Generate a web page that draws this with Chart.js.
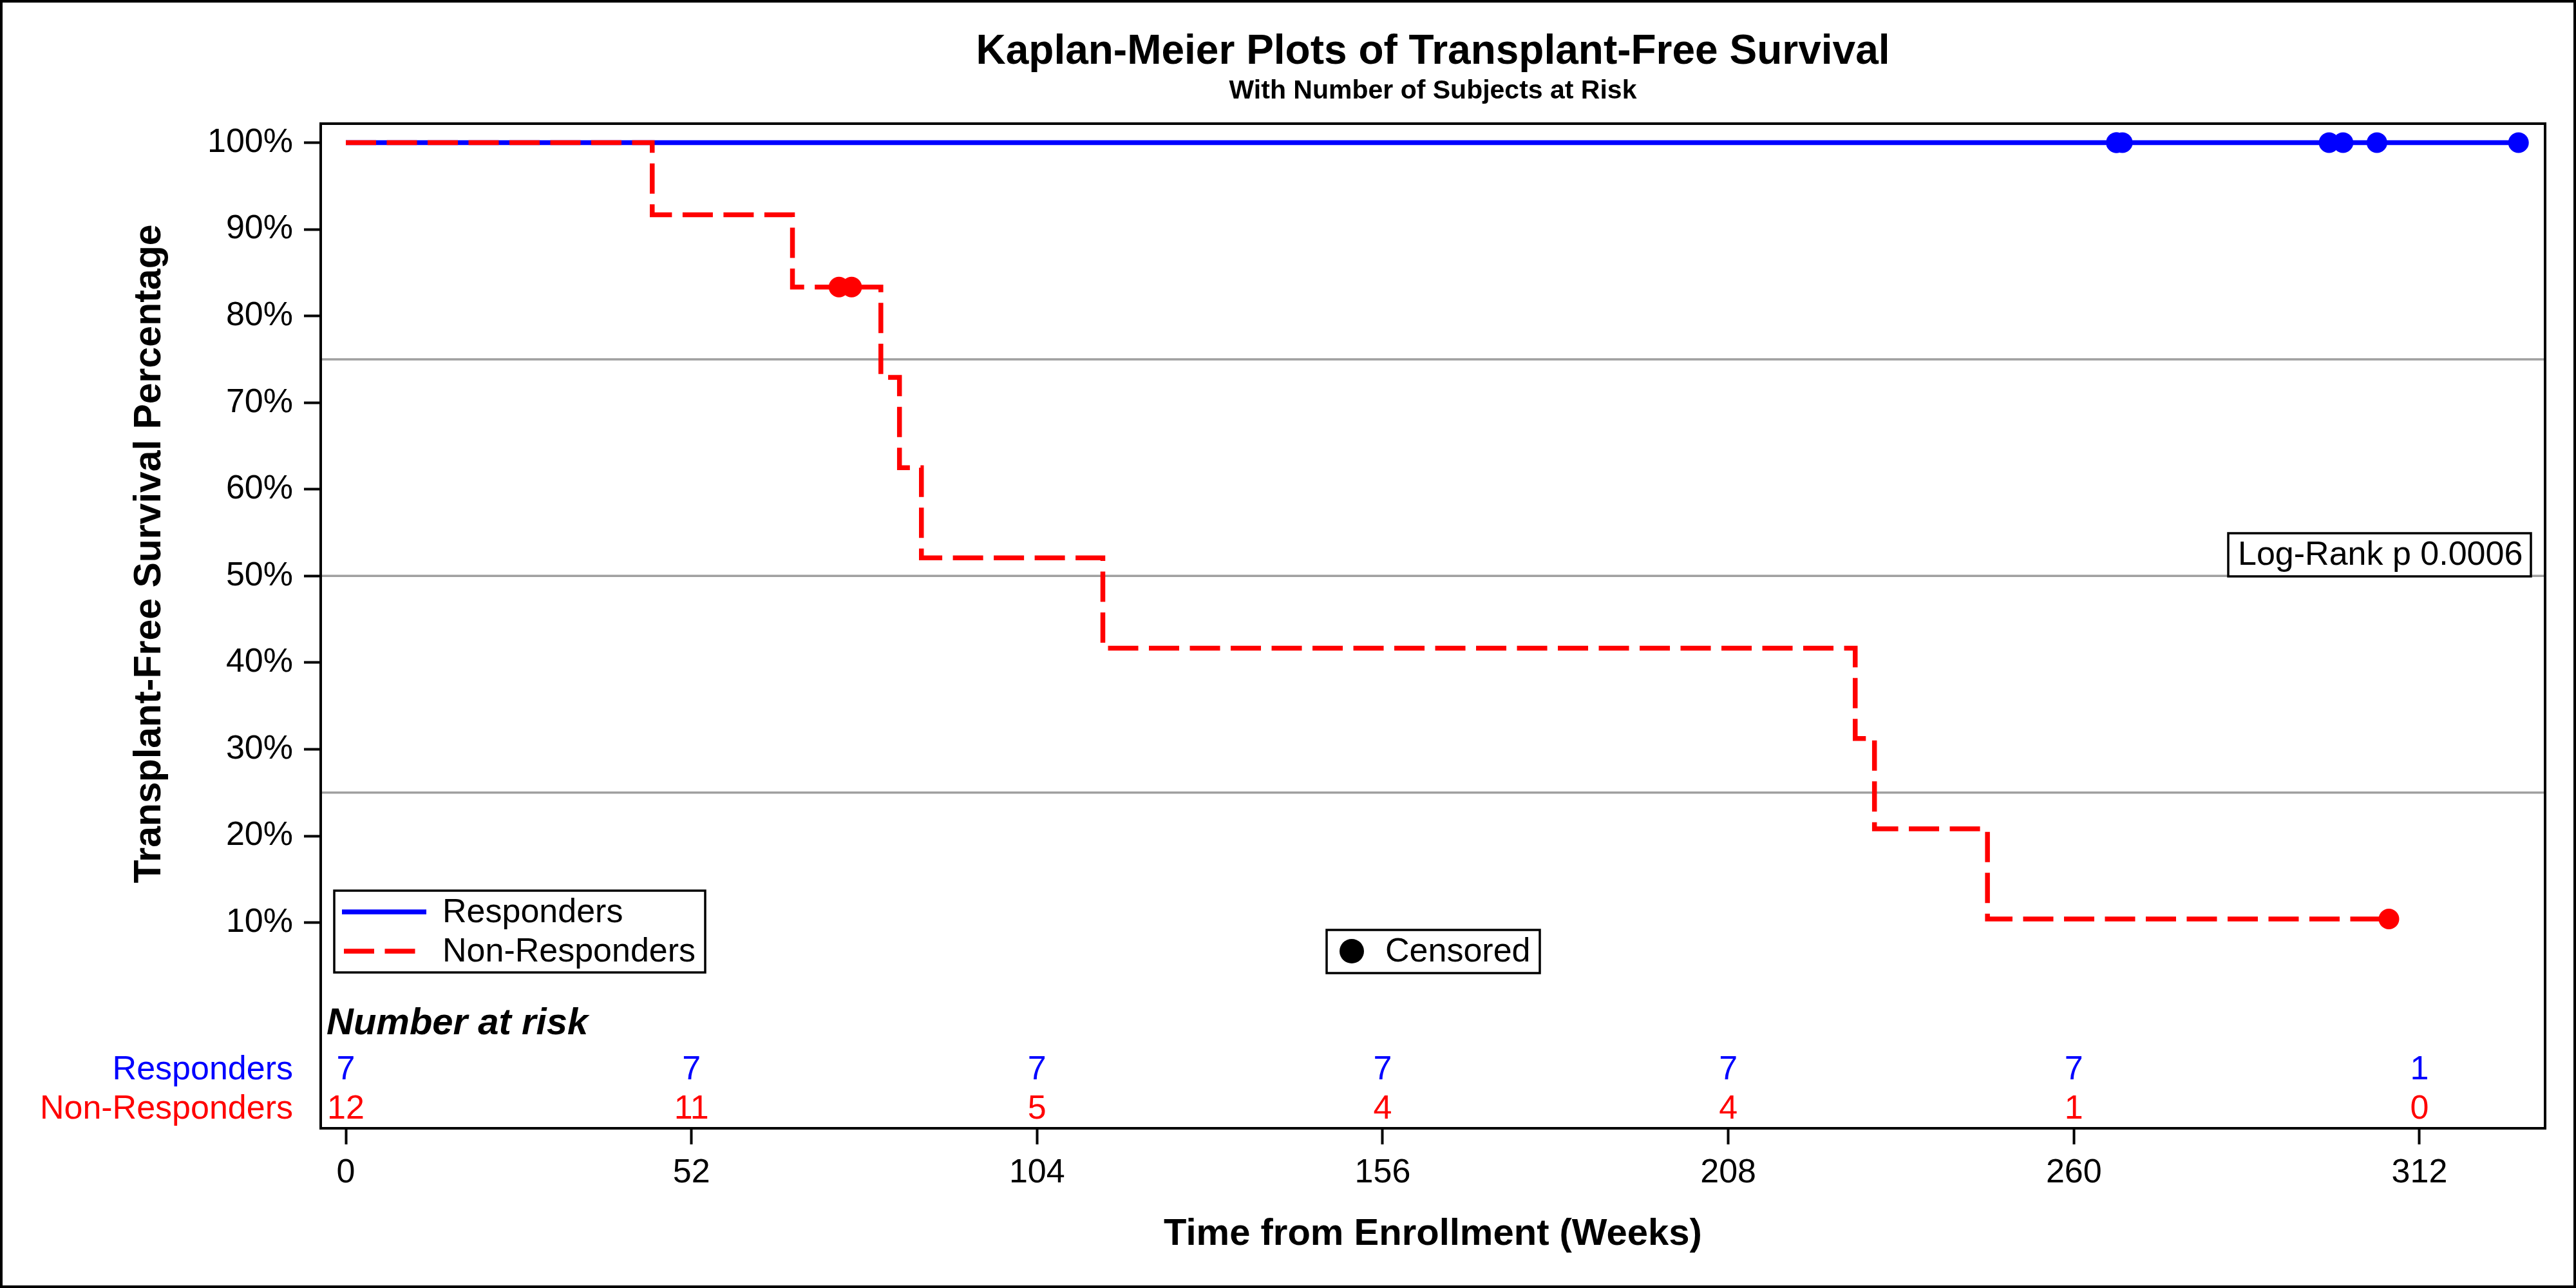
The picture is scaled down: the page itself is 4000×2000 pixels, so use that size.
<!DOCTYPE html>
<html>
<head>
<meta charset="utf-8">
<script src="https://cdn.jsdelivr.net/npm/chart.js@4.4.1/dist/chart.umd.min.js"></script>
<style>
  html, body { margin: 0; padding: 0; background: #fff; }
  #wrap { width: 4000px; height: 2000px; }
</style>
</head>
<body>
<div id="wrap"><canvas id="c" width="4000" height="2000"></canvas></div>
<script>
// ---------------- data ----------------
const xTickValues = [0, 52, 104, 156, 208, 260, 312];
const yTickValues = [10, 20, 30, 40, 50, 60, 70, 80, 90, 100];

const respTimes = [0, 326.9];
const respSurv = [100, 100];
const respCensorTimes = [266.4, 266.4, 267.3, 298.4, 300.5, 305.6, 326.9];
const respCensorSurv = [100, 100, 100, 100, 100, 100, 100];

const nonRespTimes = [0, 46.1, 67.2, 80.5, 83.3, 86.6, 113.9, 227.1, 230.0, 247.0, 307.4];
const nonRespSurv = [100, 91.67, 83.33, 72.92, 62.5, 52.08, 41.67, 31.25, 20.83, 10.42, 10.42];
const nonRespCensorTimes = [74.2, 76.1, 307.4];
const nonRespCensorSurv = [83.33, 83.33, 10.42];

const riskTimes = [0, 52, 104, 156, 208, 260, 312];
const respAtRisk = [7, 7, 7, 7, 7, 7, 1];
const nonRespAtRisk = [12, 11, 5, 4, 4, 1, 0];

const refLevels = [25, 50, 75];
const groupNames = ['Responders', 'Non-Responders'];
const pValueText = 'Log-Rank p 0.0006';

// ---------------- styling ----------------
const FONT = "'Liberation Sans', Arial, Helvetica, sans-serif";
const BLUE = '#0000ff';
const RED = '#ff0000';
const X_MIN = -3.78, X_MAX = 330.9;
const Y_MIN = -13.73, Y_MAX = 102.19;

const pts = (xs, ys) => xs.map((x, i) => ({ x: x, y: ys[i] }));

const datasets = [
  { label: 'nrCens', data: pts(nonRespCensorTimes, nonRespCensorSurv), showLine: false,
    pointRadius: 16, pointBackgroundColor: RED, pointBorderWidth: 0, borderColor: RED },
  { label: 'rCens', data: pts(respCensorTimes, respCensorSurv), showLine: false,
    pointRadius: 16, pointBackgroundColor: BLUE, pointBorderWidth: 0, borderColor: BLUE },
  { label: groupNames[1], data: pts(nonRespTimes, nonRespSurv), showLine: true, stepped: true,
    borderColor: RED, borderWidth: 7.5, borderDash: [47, 16.5], pointRadius: 0,
    borderJoinStyle: 'miter', borderCapStyle: 'butt', fill: false },
  { label: groupNames[0], data: pts(respTimes, respSurv), showLine: true, stepped: true,
    borderColor: BLUE, borderWidth: 7.5, pointRadius: 0, fill: false },
];
refLevels.forEach(lv => datasets.push({
  label: 'ref' + lv, data: [{ x: X_MIN, y: lv }, { x: X_MAX, y: lv }], showLine: true,
  borderColor: '#a0a0a0', borderWidth: 3.5, pointRadius: 0, fill: false
}));

const decor = {
  id: 'decor',
  afterDraw(chart) {
    const ctx = chart.ctx;
    const ca = chart.chartArea;
    const xs = chart.scales.x;
    ctx.save();
    // outer border
    ctx.strokeStyle = '#000';
    ctx.lineWidth = 4;
    ctx.strokeRect(2, 2, 3996, 1996);
    // plot frame
    ctx.strokeRect(ca.left, ca.top, ca.right - ca.left, ca.bottom - ca.top);

    // y axis title
    ctx.save();
    ctx.translate(233, 860);
    ctx.rotate(-Math.PI / 2);
    ctx.font = 'bold 59px ' + FONT;
    ctx.fillStyle = '#000';
    ctx.textAlign = 'center';
    ctx.textBaseline = 'middle';
    ctx.fillText('Transplant-Free Survival Percentage', 0, 0);
    ctx.restore();

    // group legend
    ctx.fillStyle = '#fff';
    ctx.fillRect(519, 1383, 576, 127);
    ctx.lineWidth = 3.5;
    ctx.strokeStyle = '#000';
    ctx.strokeRect(519, 1383, 576, 127);
    ctx.lineWidth = 7.5;
    ctx.strokeStyle = BLUE;
    ctx.beginPath(); ctx.moveTo(531, 1416); ctx.lineTo(662, 1416); ctx.stroke();
    ctx.strokeStyle = RED;
    ctx.setLineDash([47, 16.5]);
    ctx.beginPath(); ctx.moveTo(534, 1477); ctx.lineTo(647, 1477); ctx.stroke();
    ctx.setLineDash([]);
    ctx.font = '52px ' + FONT;
    ctx.fillStyle = '#000';
    ctx.textAlign = 'left';
    ctx.textBaseline = 'middle';
    ctx.fillText(groupNames[0], 687, 1418);
    ctx.fillText(groupNames[1], 687, 1479);

    // censored legend
    ctx.fillStyle = '#fff';
    ctx.fillRect(2060, 1444, 331, 67);
    ctx.lineWidth = 3.5;
    ctx.strokeStyle = '#000';
    ctx.strokeRect(2060, 1444, 331, 67);
    ctx.fillStyle = '#000';
    ctx.beginPath(); ctx.arc(2099, 1477, 19, 0, Math.PI * 2); ctx.fill();
    ctx.fillText('Censored', 2151, 1479);

    // p-value inset
    ctx.fillStyle = '#fff';
    ctx.fillRect(3460, 828, 470, 67);
    ctx.strokeRect(3460, 828, 470, 67);
    ctx.fillStyle = '#000';
    ctx.fillText(pValueText, 3475, 863);

    // risk table
    ctx.font = 'italic bold 58px ' + FONT;
    ctx.fillText('Number at risk', ca.left + 9, 1590);
    ctx.font = '52px ' + FONT;
    ctx.textAlign = 'right';
    ctx.fillStyle = BLUE;
    ctx.fillText(groupNames[0], 455, 1662);
    ctx.fillStyle = RED;
    ctx.fillText(groupNames[1], 455, 1723);
    ctx.textAlign = 'center';
    riskTimes.forEach((t, i) => {
      const px = xs.getPixelForValue(t);
      ctx.fillStyle = BLUE;
      ctx.fillText(String(respAtRisk[i]), px, 1662);
      ctx.fillStyle = RED;
      ctx.fillText(String(nonRespAtRisk[i]), px, 1723);
    });
    ctx.restore();
  }
};

new Chart(document.getElementById('c'), {
  type: 'scatter',
  data: { datasets: datasets },
  options: {
    responsive: false,
    animation: false,
    devicePixelRatio: 1,
    layout: { padding: { left: 0, right: 48, top: 0, bottom: 0 } },
    plugins: {
      legend: { display: false },
      tooltip: { enabled: false },
      title: {
        display: true, fullSize: false,
        text: 'Kaplan-Meier Plots of Transplant-Free Survival',
        color: '#000',
        font: { family: FONT, size: 64, weight: 'bold', lineHeight: 1.0 },
        padding: { top: 49, bottom: 0 }
      },
      subtitle: {
        display: true, fullSize: false,
        text: 'With Number of Subjects at Risk',
        color: '#000',
        font: { family: FONT, size: 41, weight: 'bold', lineHeight: 1.2 },
        padding: { top: 4.4, bottom: 25.4 }
      }
    },
    scales: {
      x: {
        type: 'linear', min: X_MIN, max: X_MAX,
        afterBuildTicks: s => { s.ticks = xTickValues.map(v => ({ value: v })); },
        afterFit: s => { s.height = 248; },
        ticks: { color: '#000', font: { family: FONT, size: 52, lineHeight: 1.2 }, padding: 13,
                 maxRotation: 0, autoSkip: false, callback: v => String(v) },
        grid: { display: true, drawOnChartArea: false, drawTicks: true, tickLength: 25,
                tickWidth: 4, tickColor: '#000' },
        border: { display: true, color: '#000', width: 4 },
        title: { display: true, text: 'Time from Enrollment (Weeks)', color: '#000',
                 font: { family: FONT, size: 58, weight: 'bold', lineHeight: 1.2 },
                 padding: { top: 0, bottom: 48 } }
      },
      y: {
        type: 'linear', min: Y_MIN, max: Y_MAX,
        afterBuildTicks: s => { s.ticks = yTickValues.map(v => ({ value: v })); },
        afterFit: s => { s.width = 498; },
        ticks: { color: '#000', font: { family: FONT, size: 52 }, padding: 17,
                 autoSkip: false, callback: v => v + '%' },
        grid: { display: true, drawOnChartArea: false, drawTicks: true, tickLength: 26,
                tickWidth: 4, tickColor: '#000' },
        border: { display: true, color: '#000', width: 4 }
      }
    }
  },
  plugins: [decor]
});
</script>
</body>
</html>
